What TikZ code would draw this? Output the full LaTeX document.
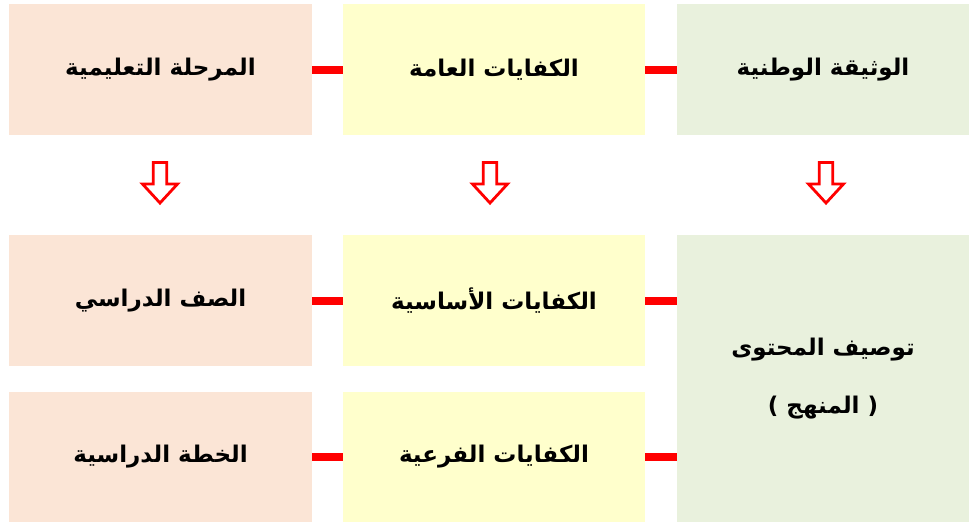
\documentclass[tikz,border=0pt]{standalone}
\usepackage{fontspec}
\TeXXeTstate=1
\newfontfamily\arabicfont[Script=Arabic]{DejaVu Sans}
\newfontfamily\latinfont{DejaVu Sans}
\definecolor{pinkbox}{HTML}{FBE5D6}
\definecolor{yellowbox}{HTML}{FFFFCC}
\definecolor{greenbox}{HTML}{E9F1DD}
\tikzset{
  box/.style={fill=#1, draw=none, inner sep=0pt, font=\arabicfont\bfseries\fontsize{23}{58}\selectfont, align=center},
  link/.style={draw=red, line width=8pt},
  downarrow/.style={draw=red, fill=white, line width=2.8pt, line join=miter}
}
\newcommand{\ar}[1]{\beginR #1\endR}
\begin{document}
\begin{tikzpicture}[x=1pt,y=-1pt]
\useasboundingbox (0,0) rectangle (969,522);
% row 1
\node[box=pinkbox, minimum width=303pt, minimum height=131pt] (r1l) at (160.5,69.5) {\ar{المرحلة التعليمية}};
\node[box=yellowbox, minimum width=302pt, minimum height=131pt] (r1m) at (494,69.5) {\ar{الكفايات العامة}};
\node[box=greenbox, minimum width=292pt, minimum height=131pt] (r1r) at (823,69.5) {\ar{الوثيقة الوطنية}};
% row 2
\node[box=pinkbox, minimum width=303pt, minimum height=131pt] (r2l) at (160.5,300.5) {\ar{الصف الدراسي}};
\node[box=yellowbox, minimum width=302pt, minimum height=131pt] (r2m) at (494,300.5) {\ar{الكفايات الأساسية}};
% row 3
\node[box=pinkbox, minimum width=303pt, minimum height=130pt] (r3l) at (160.5,457) {\ar{الخطة الدراسية}};
\node[box=yellowbox, minimum width=302pt, minimum height=130pt] (r3m) at (494,457) {\ar{الكفايات الفرعية}};
% tall right
\node[box=greenbox, minimum width=292pt, minimum height=287pt] (tall) at (823,378.5) {\ar{توصيف المحتوى}\\{\latinfont\bfseries (} \ar{المنهج} {\latinfont\bfseries )}};
% connectors
\draw[link] (r1l.east) -- (r1m.west);
\draw[link] (r1m.east) -- (r1r.west);
\draw[link] (r2l.east) -- (r2m.west);
\coordinate (t2) at (tall.west |- r2m.east);
\draw[link] (r2m.east) -- (t2);
\draw[link] (r3l.east) -- (r3m.west);
\coordinate (t3) at (tall.west |- r3m.east);
\draw[link] (r3m.east) -- (t3);
% down arrows
\foreach \cx in {160,490,826}{
  \draw[downarrow] (\cx-6.8,162.5) -- (\cx+6.8,162.5) -- (\cx+6.8,184) -- (\cx+17.5,184) -- (\cx,203) -- (\cx-17.5,184) -- (\cx-6.8,184) -- cycle;
}
\end{tikzpicture}
\end{document}
